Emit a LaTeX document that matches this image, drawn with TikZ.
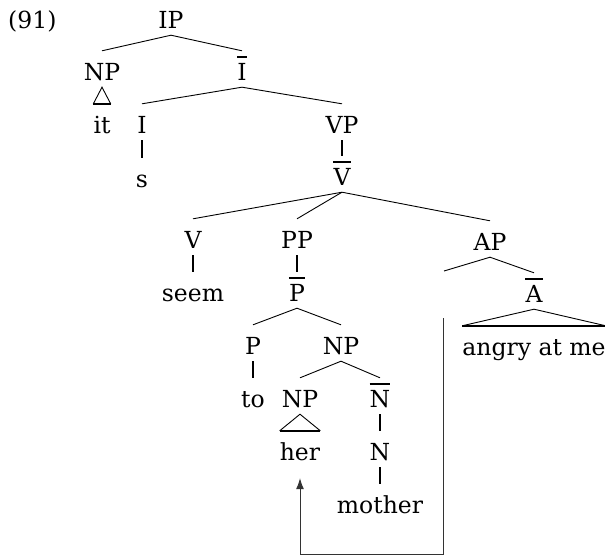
\documentclass[tikz,border=0pt]{standalone}
\usepackage{fontspec}
\setmainfont{DejaVu Serif}
\usetikzlibrary{arrows.meta}
\begin{document}
\begin{tikzpicture}[x=1pt,y=-1pt,
  lab/.style={font=\fontsize{23.5pt}{28pt}\selectfont, inner sep=0pt, text height=29pt, text depth=7pt, anchor=base},
  edge/.style={line width=0.9pt},
  vline/.style={line width=1.6pt},
  barline/.style={line width=2.6pt},
  trib/.style={line width=2pt},
  mv/.style={line width=0.9pt, black!80}
]
\useasboundingbox (0,0) rectangle (605,555);
\node[lab, anchor=base west] (ex) at (8,28) {(91)};
\node[lab] (IP) at (171,28) {IP};
\node[lab] (NP1) at (102,80) {NP};
\node[lab] (Ibar) at (242,80) {I};
\node[lab] (it) at (102,133) {it};
\node[lab] (I) at (142,133) {I};
\node[lab] (VP) at (342,133) {VP};
\node[lab] (s) at (142,187) {s};
\node[lab] (Vbar) at (342,185) {V};
\node[lab] (V) at (193,248) {V};
\node[lab] (PP) at (297,248) {PP};
\node[lab] (AP) at (490,250) {AP};
\node[lab] (seem) at (193,301) {seem};
\node[lab] (Pbar) at (297,301) {P};
\node[lab] (Abar) at (534,302) {A};
\node[lab] (P) at (253,354) {P};
\node[lab] (NP2) at (341,354) {NP};
\node[lab] (angry) at (534,355) {angry at me};
\node[lab] (to) at (253,407) {to};
\node[lab] (NP3) at (300,407) {NP};
\node[lab] (Nbar) at (380,407) {N};
\node[lab] (her) at (300,460) {her};
\node[lab] (N) at (380,460) {N};
\node[lab] (mother) at (380,513) {mother};
\coordinate (apl) at (444,271);
\coordinate (boxtop) at (443,318);
\coordinate (corner) at (443,554);
% bars
\foreach \n in {Ibar,Vbar,Pbar,Nbar,Abar}
  \draw[barline] ([yshift=23pt]\n.base west) -- ([yshift=23pt]\n.base east);
% branches
\draw[edge] (NP1.north) -- (IP.south) -- (Ibar.north);
\draw[edge] (I.north) -- (Ibar.south) -- (VP.north);
\draw[edge] (Vbar.south) -- (V.north);
\draw[edge] (Vbar.south) -- (PP.north);
\draw[edge] (Vbar.south) -- (AP.north);
\draw[edge] (P.north) -- (Pbar.south) -- (NP2.north);
\draw[edge] (NP3.north) -- (NP2.south) -- (Nbar.north);
\draw[edge] (apl) -- (AP.south) -- (Abar.north);
% unary
\draw[vline] (I.south) -- (s.north);
\draw[vline] (VP.south) -- (Vbar.north);
\draw[vline] (V.south) -- (seem.north);
\draw[vline] (PP.south) -- (Pbar.north);
\draw[vline] (P.south) -- (to.north);
\draw[vline] (Nbar.south) -- (N.north);
\draw[vline] (N.south) -- (mother.north);
% triangles
\draw[edge] (it.north west) -- (NP1.south) -- (it.north east);
\draw[trib] (it.north west) -- (it.north east);
\draw[edge] (her.north west) -- (NP3.south) -- (her.north east);
\draw[trib] (her.north west) -- (her.north east);
\draw[edge] (angry.north west) -- (Abar.south) -- (angry.north east);
\draw[trib] (angry.north west) -- (angry.north east);
% movement
\draw[mv] (boxtop) -- (corner) -| ([yshift=-20pt]her.south);
\draw[mv, -{Latex[length=11pt,width=8pt]}] ([yshift=-25pt]her.south) -- ([yshift=-11pt]her.south);
\end{tikzpicture}
\end{document}
